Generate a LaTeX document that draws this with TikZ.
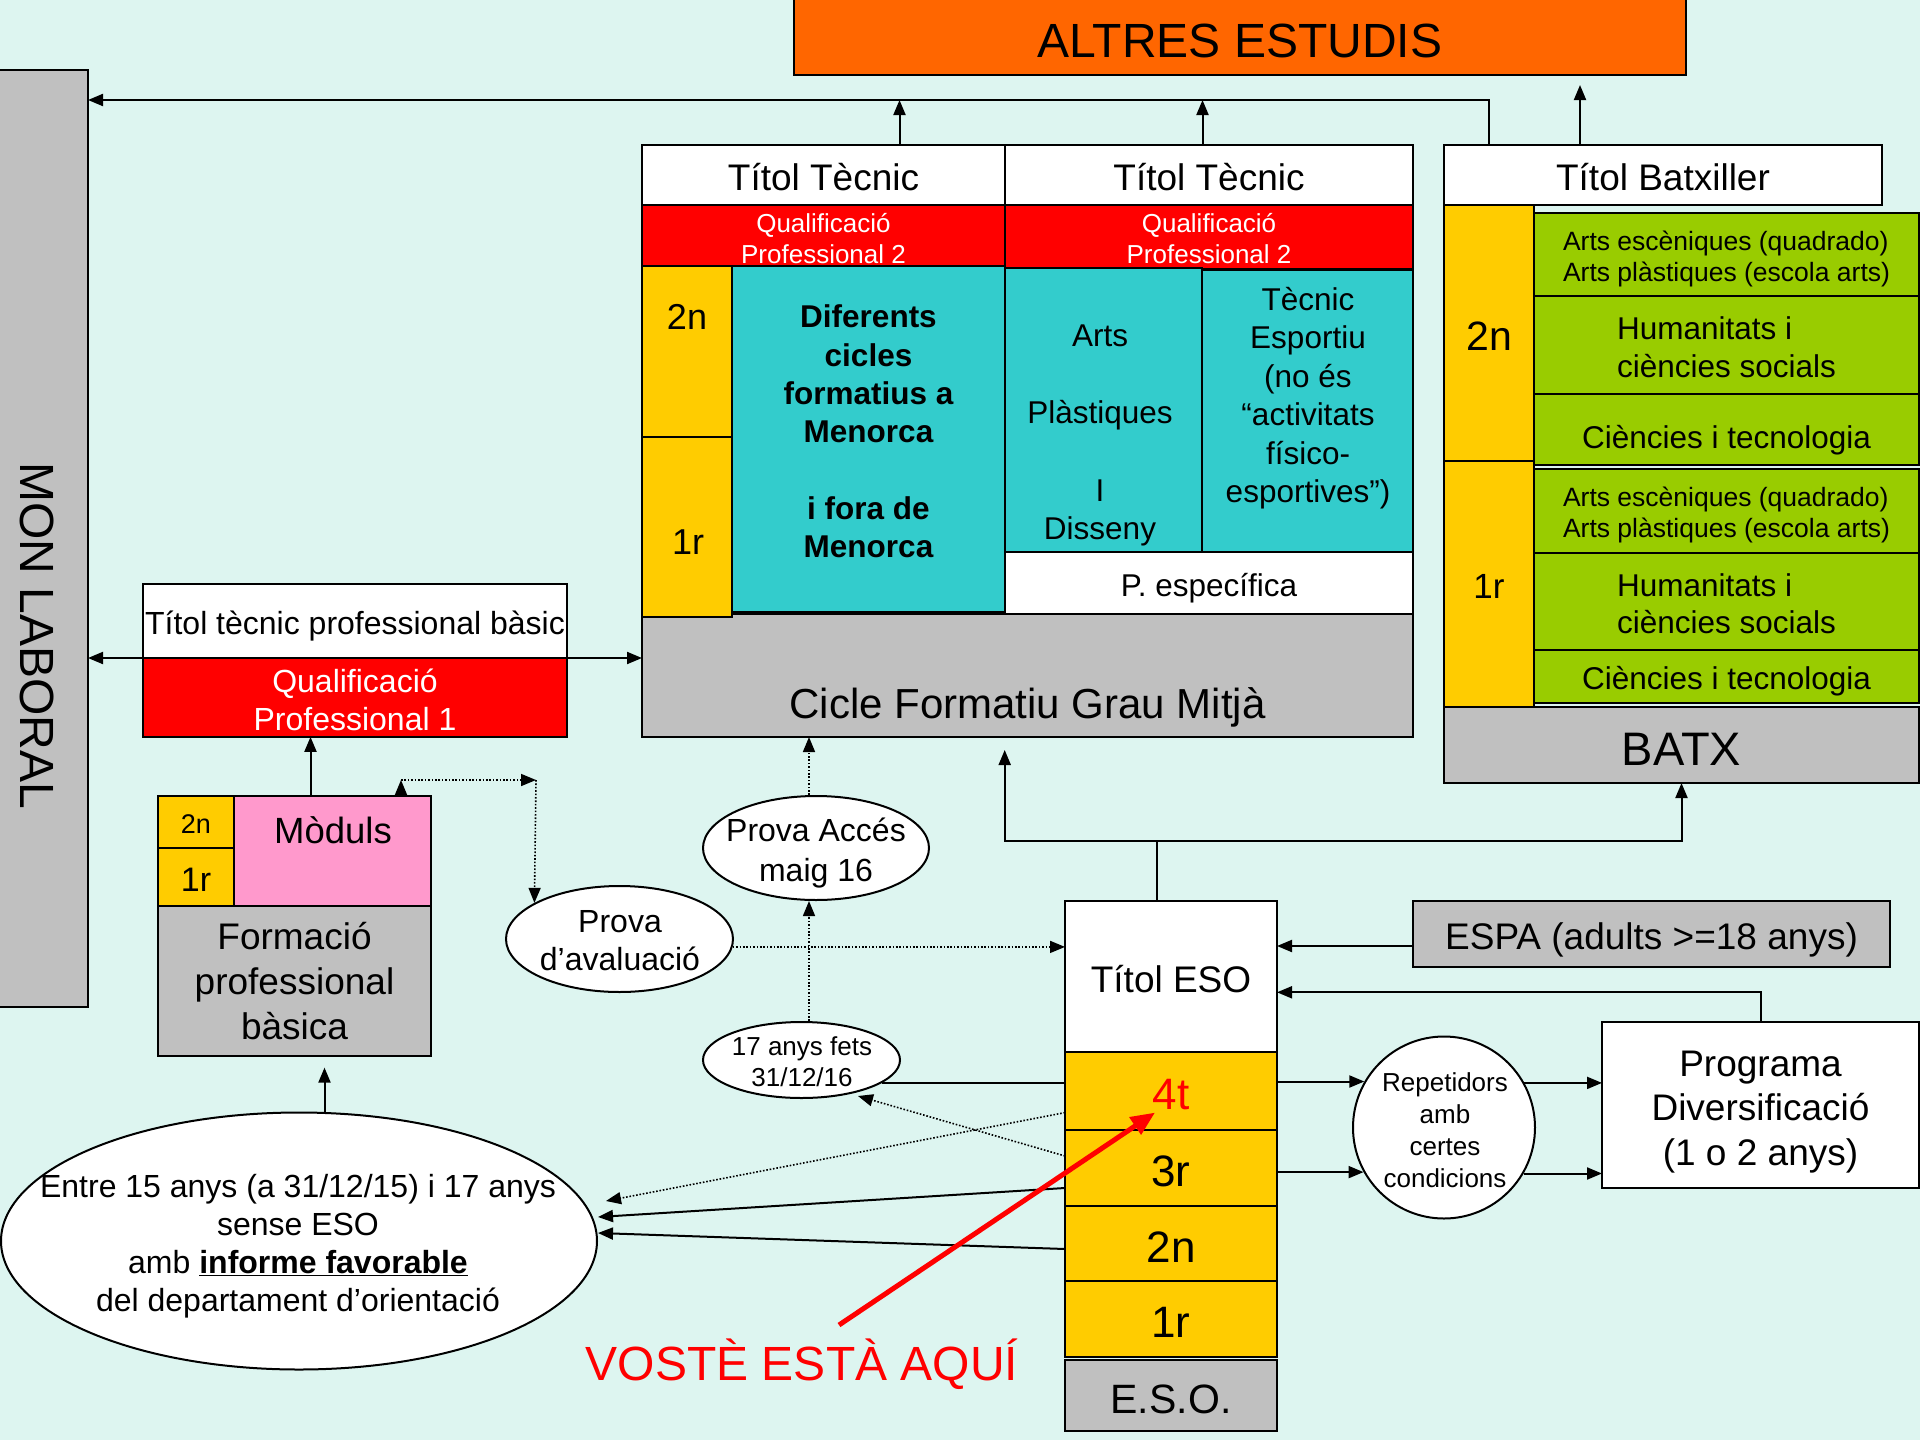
\documentclass[tikz,border=0pt]{standalone}
\usepackage{fontspec}
\setmainfont{Liberation Sans}
\usetikzlibrary{arrows.meta,shapes.geometric}
\definecolor{bg}{RGB}{221,245,240}
\definecolor{orng}{RGB}{255,102,0}
\definecolor{rd}{RGB}{255,0,0}
\definecolor{yl}{RGB}{255,204,0}
\definecolor{tl}{RGB}{51,204,204}
\definecolor{gr}{RGB}{153,204,0}
\definecolor{gy}{RGB}{192,192,192}
\definecolor{pk}{RGB}{255,153,204}
\newcommand{\stt}{\rule[-0.212em]{0pt}{1.277em}}
\tikzset{
 bxbase/.style={draw=black, line width=2pt, anchor=north west, inner sep=0pt, outer sep=0pt, align=center},
 bx/.style={bxbase, execute at begin node=\stt, execute at end node=\stt},
 fs/.style 2 args={font=\fontsize{#1}{#2}\selectfont},
 ar/.style={line width=2pt, -{Triangle[length=15pt,width=12pt]}},
 dt/.style={line width=1.6pt, dash pattern=on 1.6pt off 1.8pt},
 dar/.style={dt, -{Triangle[length=15pt,width=12pt]}},
 ell/.style={ellipse, draw=black, line width=2pt, fill=white, inner sep=0pt},
 txt/.style={inner sep=0pt, align=center},
 redar/.style={draw=rd, line width=5pt, -{Triangle[length=24pt,width=20pt]}},
}
\begin{document}
\begin{tikzpicture}[x=1pt,y=-1pt]
\useasboundingbox (0,0) rectangle (1920,1440);
\fill[bg] (0,0) rectangle (1920,1440);

% MON LABORAL
\node[bx, fill=gy, minimum width=90, minimum height=937] (mon) at (-2,70) {};
\node[txt, rotate=-90, fs={48}{56}] (monl) at (37,636) {MON LABORAL};

% ALTRES ESTUDIS
\node[bx, fill=orng, minimum width=892, minimum height=76, fs={48}{56}] (altres) at (794,-1) {ALTRES ESTUDIS};

% Cicle formatiu block
\node[bx, fill=gy, minimum width=771, minimum height=123] (cicle) at (642,614) {};
\node[txt, fs={42}{50}] (ciclet) at (1027.5,707.7) {Cicle Formatiu Grau Mitjà};
\node[bx, fill=white, minimum width=363, minimum height=60, fs={37}{44}] (tt1) at (642,145) {Títol Tècnic};
\node[bx, fill=white, minimum width=408, minimum height=60, fs={37}{44}] (tt2) at (1005,145) {Títol Tècnic};
\node[bx, fill=rd, text=white, minimum width=363, minimum height=61, fs={26}{31}] (qa) at (642,205) {\stt Qualificació\\Professional 2};
\node[bx, fill=rd, text=white, minimum width=408, minimum height=61, fs={26}{31}] (qb) at (1005,205) {\stt Qualificació\\Professional 2};
\node[bx, fill=yl, minimum width=90, minimum height=171] (c2n) at (642,266) {};
\node[bx, fill=yl, minimum width=90, minimum height=180] (c1r) at (642,437) {};
\node[txt, fs={36}{42}] (c2nt) at (687,317) {2n};
\node[txt, fs={36}{42}] (c1rt) at (688,542) {1r};
\node[bx, fill=tl, minimum width=273, minimum height=346] (teal) at (732,266) {};
\node[txt, font={\fontsize{31.5}{38.3}\selectfont\bfseries}] (tealt) at (868.5,431.5) {Diferents\\cicles\\formatius a\\Menorca\\[38.3pt]i fora de\\Menorca};
\node[bx, fill=tl, minimum width=197, minimum height=284] (arts) at (1005,268) {};
\node[txt, fs={31.5}{38.7}] (artst) at (1100,435.5) {Arts\\[38.7pt]Plàstiques\\[38.7pt]I\\Disseny};
\node[bx, fill=tl, minimum width=211, minimum height=282] (esp) at (1202,270) {};
\node[txt, fs={31.5}{38.5}] (espt) at (1308,398) {Tècnic\\Esportiu\\(no és\\“activitats\\físico-\\esportives”)};
\node[bx, fill=white, minimum width=408, minimum height=62, fs={31.5}{38}] (pesp) at (1005,552) {P. específica};

% Batxillerat block
\node[bx, fill=white, minimum width=438, minimum height=60, fs={37}{44}] (tb) at (1444,145) {Títol Batxiller};
\node[bx, fill=yl, minimum width=90, minimum height=256, fs={41}{48}] (b2n) at (1444,205) {2n};
\node[bx, fill=yl, minimum width=90, minimum height=246, fs={35}{42}] (b1r) at (1444,461) {1r};
\node[bx, fill=gr, minimum width=385, minimum height=83, fs={26.5}{31}, align=left] (g1) at (1534,213) {\stt Arts escèniques (quadrado)\\Arts plàstiques (escola arts)};
\node[bx, fill=gr, minimum width=385, minimum height=98, fs={31.5}{37.5}, align=left] (g2) at (1534,296) {\stt Humanitats i\\ciències socials};
\node[bx, fill=gr, minimum width=385, minimum height=71, fs={31.5}{37}] (g3) at (1534,394) {\rule{0pt}{44pt}Ciències i tecnologia};
\node[bx, fill=gr, minimum width=385, minimum height=84, fs={26.5}{31}, align=left] (g4) at (1534,469) {\stt Arts escèniques (quadrado)\\Arts plàstiques (escola arts)};
\node[bx, fill=gr, minimum width=385, minimum height=97, fs={31.5}{37.5}, align=left] (g5) at (1534,553) {\stt Humanitats i\\ciències socials};
\node[bx, fill=gr, minimum width=385, minimum height=53, fs={31.5}{37}] (g6) at (1534,650) {Ciències i tecnologia};
\node[bx, fill=gy, minimum width=475, minimum height=76, fs={47}{54}] (batx) at (1444,707) {BATX};

% Formacio professional basica
\node[bx, fill=white, minimum width=424, minimum height=74, fs={32}{38}] (ttpb) at (143,584) {Títol tècnic professional bàsic};
\node[bx, fill=rd, text=white, minimum width=424, minimum height=77, fs={32}{38}] (qp1) at (143,658) {\stt Qualificació\\Professional 1};
\node[bx, fill=yl, minimum width=76, minimum height=52, fs={27}{32}] (f2n) at (158,796) {2n};
\node[bx, fill=yl, minimum width=76, minimum height=58, fs={34}{40}] (f1r) at (158,848) {1r};
\node[bx, fill=pk, minimum width=197, minimum height=110] (mod) at (234,796) {};
\node[txt, fs={36.5}{42}] (modt) at (333,830) {Mòduls};
\node[bxbase, fill=gy, minimum width=273, minimum height=150, fs={37}{44.6}] (fgray) at (158,906) {Formació\\professional\\bàsica};

% Ellipses
\node[ell, minimum width=227, minimum height=106] (aval) at (619.5,939) {};
\node[txt, fs={32}{38}] (avalt) at (620,941) {Prova\\d’avaluació};
\node[ell, minimum width=226, minimum height=104] (acces) at (816,848) {};
\node[txt, fs={32}{39.2}] (accest) at (816,853) {Prova Accés\\maig 16};
\node[ell, minimum width=197, minimum height=76] (anys17) at (801.5,1060) {};
\node[txt, fs={26}{31}] (anys17t) at (802,1062) {17 anys fets\\31/12/16};
\node[ell, minimum width=596, minimum height=257] (entre) at (299,1241) {};
\node[txt, fs={32}{38}] (entret) at (298,1246) {Entre 15 anys (a 31/12/15) i 17 anys\\sense ESO\\amb \underline{\textbf{informe favorable}}\\del departament d’orientació};

% ESO column
\node[bx, fill=white, minimum width=212, minimum height=151, fs={37}{44}] (teso) at (1065,901) {Títol ESO};
\node[bx, fill=yl, text=rd, minimum width=212, minimum height=78, fs={44}{50}] (e4t) at (1065,1052) {4t};
\node[bx, fill=yl, minimum width=212, minimum height=76, fs={44}{50}] (e3r) at (1065,1130) {3r};
\node[bx, fill=yl, minimum width=212, minimum height=75, fs={44}{50}] (e2n) at (1065,1206) {2n};
\node[bx, fill=yl, minimum width=212, minimum height=76, fs={44}{50}] (e1r) at (1065,1281) {1r};
\node[bx, fill=gy, minimum width=212, minimum height=71, fs={41}{48}] (eso) at (1065,1360) {E.S.O.};

% Right side
\node[bx, fill=gy, minimum width=477, minimum height=66, fs={37}{44}] (espa) at (1413,901) {ESPA (adults >=18 anys)};
\node[bx, fill=white, minimum width=317, minimum height=166, fs={37}{44.6}] (prog) at (1602,1022) {\stt Programa\\Diversificació\\(1 o 2 anys)};
\node[circle, draw=black, line width=2pt, fill=white, minimum size=182, inner sep=0pt] (rep) at (1444,1127.5) {};
\node[txt, fs={26}{32}] (rept) at (1445,1130) {Repetidors\\amb\\certes\\condicions};

% VOSTE ESTA AQUI
\node[txt, text=rd, fs={48}{56}] (voste) at (802,1364) {VOSTÈ ESTÀ AQUÍ};

% ---- Connectors ----
\coordinate (ax1) at (899.5,100);
\coordinate (ax2) at (1202.5,100);
\coordinate (ax3) at (1489,100);
\coordinate (ax4) at (1580,85);
\draw[ar] (ax1 |- tt1.north) -- (ax1);
\draw[ar] (ax2 |- tt2.north) -- (ax2);
\draw[ar] (ax3 |- tb.north) -- (ax3) -- (ax3 -| mon.east);
\draw[ar] (ax4 |- tb.north) -- (ax4);

\draw[ar] (qp1.north west) -- (qp1.north west -| mon.east);
\draw[ar] (qp1.north east) -- (qp1.north east -| cicle.west);

\coordinate (fq) at (310.5,0);
\draw[ar] (mod.north -| fq) -- (qp1.south -| fq);

\coordinate (d1) at (401,780);
\coordinate (d2) at (536,780);
\draw[dar] (mod.north -| d1) -- (d1);
\draw[dar] (d1) -- (d2);
\draw[dar] (d2) -- (aval.157);

\draw[dar] (aval.-4) -- (aval.-4 -| teso.west);

\coordinate (vx) at (809,0);
\draw[dar] (acces.north -| vx) -- (cicle.south -| vx);
\draw[dar] (anys17.north -| vx) -- (acces.south -| vx);

\draw[line width=2pt] (anys17.-16) -- (anys17.-16 -| e4t.west);
\coordinate (t17) at (858,1096);
\draw[dar] ([yshift=12pt]e3r.west) -- (t17);

\coordinate (en1) at (606,1201);
\coordinate (en2) at (598,1217);
\coordinate (en3) at (598,1233);
\draw[dar] ([yshift=-21.6pt]e4t.west) -- (en1);
\draw[ar] ([yshift=-20pt]e3r.west) -- (en2);
\draw[ar] ([yshift=-5.5pt]e2n.west) -- (en3);

\coordinate (ftip) at (324.5,1067.6);
\draw[ar] (entre.north -| ftip) -- (ftip);

\coordinate (tj) at (1156.6,840.8);
\coordinate (ctip) at (1004.7,750);
\draw[line width=2pt] (teso.north -| tj) -- (tj);
\draw[ar] (tj) -| (ctip);
\draw[ar] (tj) -| (batx.south);

\coordinate (ey) at (0,946);
\draw[ar] (espa.west |- ey) -- (teso.east |- ey);
\coordinate (py) at (0,992.3);
\draw[ar] (prog.north) |- (teso.east |- py);

\draw[ar] (rep.150.4 -| e4t.east) -- (rep.150.4);
\draw[ar] (rep.209.5 -| e3r.east) -- (rep.209.5);
\draw[ar] (rep.29.6) -- (rep.29.6 -| prog.west);
\draw[ar] (rep.-30.5) -- (rep.-30.5 -| prog.west);

\coordinate (rs) at (839,1325);
\coordinate (rt) at (1155,1112.6);
\draw[redar] (rs) -- (rt);
\end{tikzpicture}
\end{document}
